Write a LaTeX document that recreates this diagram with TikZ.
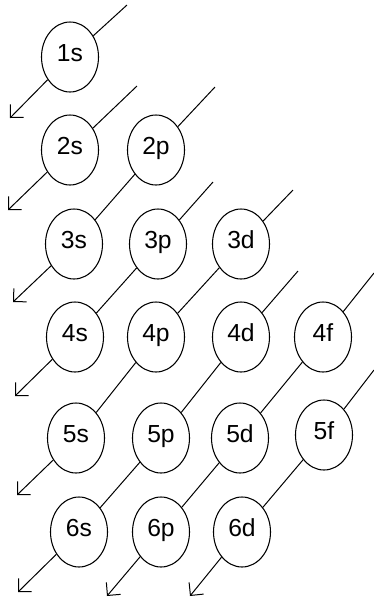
\documentclass[tikz,border=0pt]{standalone}
\usepackage{fontspec}
\setmainfont{Liberation Sans}
\usetikzlibrary{shapes.geometric,arrows.meta}
\tikzset{
  orb/.style={draw, ellipse, line width=0.8pt, inner sep=0pt, minimum width=42.75pt, minimum height=52.5pt, font=\fontsize{18.5}{18.5}\selectfont, text height=0.72em, text depth=0pt},
  diag/.style={line width=0.75pt, -{Straight Barb[length=7pt,width=14pt,line width=0.75pt]}}
}
\begin{document}
\begin{tikzpicture}[x=0.75pt,y=-0.75pt]
\useasboundingbox (0,0) rectangle (374,601);
\node[orb] (1s) at (70,57) {1s};
\node[orb] (2s) at (70,150) {2s};
\node[orb] (2p) at (156,150) {2p};
\node[orb] (3s) at (74,244) {3s};
\node[orb] (3p) at (158,244) {3p};
\node[orb] (3d) at (241,244) {3d};
\node[orb] (4s) at (75,337) {4s};
\node[orb] (4p) at (156,337) {4p};
\node[orb] (4d) at (241,337) {4d};
\node[orb] (4f) at (323,337) {4f};
\node[orb] (5s) at (76,438) {5s};
\node[orb] (5p) at (161,438) {5p};
\node[orb] (5d) at (240,438) {5d};
\node[orb] (5f) at (324,435) {5f};
\node[orb] (6s) at (79,532) {6s};
\node[orb] (6p) at (161,532) {6p};
\node[orb] (6d) at (242,532) {6d};
\coordinate (s1) at (127,5);   \coordinate (e1) at (10,118);
\coordinate (s2) at (137,86);  \coordinate (e2) at (8,210);
\coordinate (s3) at (215,87);  \coordinate (e3) at (13,302);
\coordinate (s4) at (213,182); \coordinate (e4) at (15,396);
\coordinate (s5) at (293,190); \coordinate (e5) at (17,495);
\coordinate (s6) at (298,271); \coordinate (e6) at (18,592);
\coordinate (s7) at (374,273); \coordinate (e7) at (107,596);
\coordinate (s8) at (374,370); \coordinate (e8) at (190,596);
\draw[diag] (s1) -- (1s) -- (e1);
\draw[diag] (s2) -- (2s) -- (e2);
\draw[diag] (s3) -- (2p) -- (3s) -- (e3);
\draw[diag] (s4) -- (3p) -- (4s) -- (e4);
\draw[diag] (s5) -- (3d) -- (4p) -- (5s) -- (e5);
\draw[diag] (s6) -- (4d) -- (5p) -- (6s) -- (e6);
\draw[diag] (s7) -- (4f) -- (5d) -- (6p) -- (e7);
\draw[diag] (s8) -- (5f) -- (6d) -- (e8);
\end{tikzpicture}
\end{document}
